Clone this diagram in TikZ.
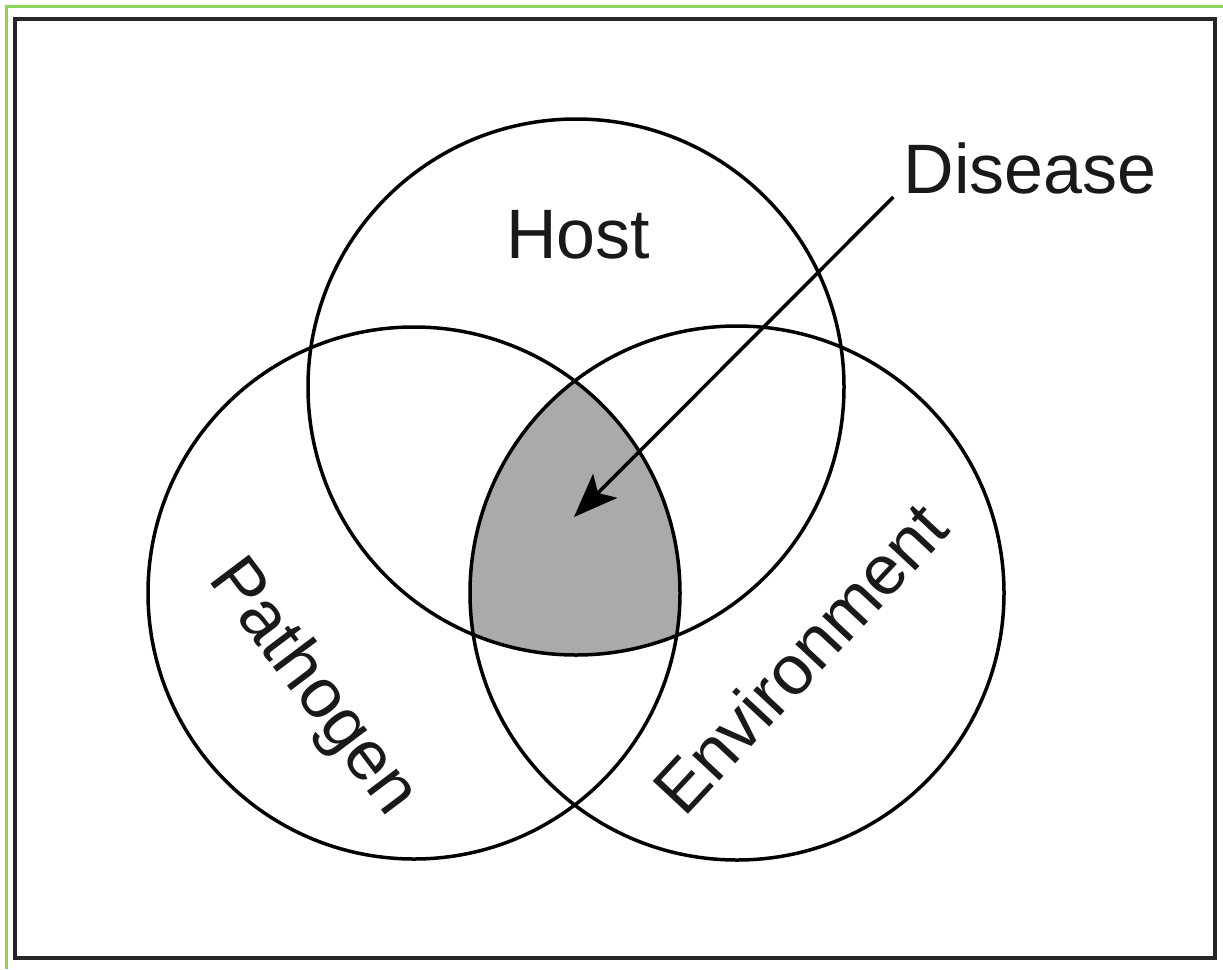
\documentclass[tikz,border=0pt]{standalone}
\usepackage{fontspec}
\setmainfont{Liberation Sans}
\usetikzlibrary{arrows.meta}
\begin{document}
\begin{tikzpicture}[x=1pt,y=-1pt,
  ring/.style={draw=black, line width=3.5pt},
  lbl/.style={font=\fontsize{70}{84}\selectfont, inner sep=0pt, text=black!90},
  frame/.style={draw=black!85, line width=4pt},
  edge/.style={draw={rgb,255:red,139;green,212;blue,90}, line width=3pt},
  pointer/.style={draw=black, line width=3.5pt, -{Stealth[length=44pt,width=34pt,inset=10pt]}}
  ]
\useasboundingbox (0,0) rectangle (1223,969);
\fill[white] (0,0) rectangle (1223,969);
% green edges (cropped border)
\coordinate (g1) at (6,969);
\coordinate (g2) at (6,6);
\coordinate (g3) at (1223,6);
\draw[edge] (g1) -- (g2) -- (g3);
% black frame
\coordinate (f1) at (15,19);
\coordinate (f2) at (1215,958);
\draw[frame] (f1) rectangle (f2);
% circle centres
\coordinate (hc) at (576,387);
\coordinate (pc) at (414,593);
\coordinate (ec) at (737,593);
% shaded triple intersection
\begin{scope}
  \clip (pc) circle [radius=266pt];
  \clip (ec) circle [radius=267pt];
  \fill[fill={rgb,255:red,170;green,170;blue,170}] (hc) circle [radius=268pt];
\end{scope}
\draw[ring] (hc) circle [radius=268pt];
\draw[ring] (pc) circle [radius=266pt];
\draw[ring] (ec) circle [radius=267pt];
% labels
\node[lbl] (host) at (578,235) {Host};
\node[lbl] (dis) at (1030,168) {Disease};
\node[lbl, rotate=-53] (path) at (312,688) {Pathogen};
\node[lbl, rotate=47] (env) at (800,658) {Environment};
% arrow
\coordinate (tip) at (574,517);
\draw[pointer] ([shift={(-10,4)}]dis.base west) -- (tip);
\end{tikzpicture}
\end{document}
